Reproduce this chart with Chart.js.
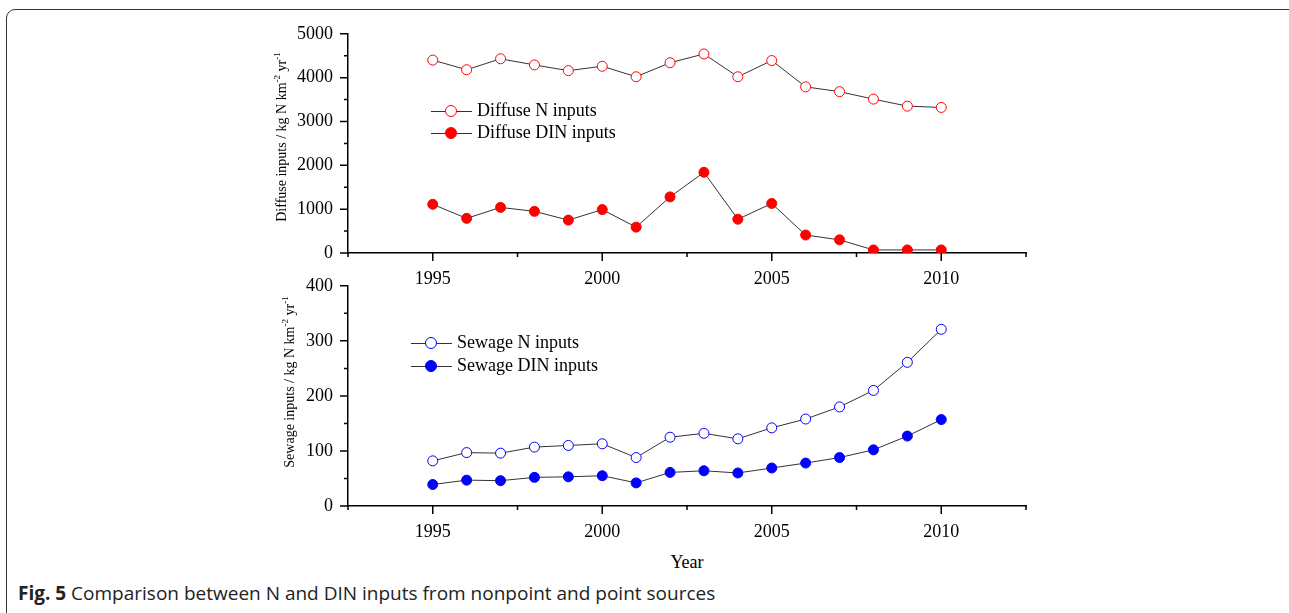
<!DOCTYPE html>
<html lang="en">
<head>
    <meta charset="UTF-8">
    <title>Fig. 5</title>
    <style>
        body {
            margin: 0;
            background-color: #fff;
            width: 1289px;
            height: 613px;
            overflow: hidden;
            position: relative;
            font-family: 'Liberation Serif', 'Times New Roman', serif;
            color: #000;
        }

        .frame {
            position: absolute;
            left: 6px;
            top: 9px;
            width: 1300px;
            height: 640px;
            border: 1.5px solid #333;
            border-radius: 9px;
        }

        .chart-box {
            position: absolute;
            left: 260px;
            width: 800px;
            height: 282px;
        }

        #topBox { top: 8px; }
        #bottomBox { top: 260px; }

        .y-title {
            position: absolute;
            white-space: nowrap;
            font-size: 14px;
            transform: translate(-50%, -50%) rotate(-90deg);
        }

        .y-title sup {
            font-size: 9px;
            vertical-align: 6px;
            line-height: 0;
        }

        .legend-row {
            position: absolute;
            height: 0;
            font-size: 18px;
        }

        .legend-row .line {
            position: absolute;
            left: 0;
            top: -0.5px;
            width: 41px;
            height: 1px;
            background-color: #333;
        }

        .legend-row .dot {
            position: absolute;
            left: 14px;
            top: -6px;
            width: 10px;
            height: 10px;
            border-radius: 50%;
            border: 1px solid;
            box-sizing: content-box;
        }

        .legend-row .label {
            position: absolute;
            left: 46px;
            top: -11px;
            white-space: nowrap;
            line-height: 20px;
        }

        .x-title {
            position: absolute;
            left: 687px;
            top: 562px;
            font-size: 18px;
            transform: translate(-50%, -50%);
        }

        .caption {
            position: absolute;
            left: 18px;
            top: 580px;
            font-family: 'Open Sans', 'Noto Sans', sans-serif;
            font-size: 19px;
            white-space: nowrap;
            color: #222;
        }
    </style>
</head>
<body>
    <div class="frame"></div>

    <div class="chart-box" id="topBox"><canvas id="topChart" width="800" height="282"></canvas></div>
    <div class="chart-box" id="bottomBox"><canvas id="bottomChart" width="800" height="282"></canvas></div>

    <div class="y-title" style="left:282px; top:137px;">Diffuse inputs / kg N km<sup>-2</sup> yr<sup>-1</sup></div>
    <div class="y-title" style="left:290px; top:382px;">Sewage inputs / kg N km<sup>-2</sup> yr<sup>-1</sup></div>

    <div class="legend-row" style="left:431px; top:111px;">
        <span class="line"></span><span class="dot" style="border-color:#ff0000; background:#fff;"></span>
        <span class="label">Diffuse N inputs</span>
    </div>
    <div class="legend-row" style="left:431px; top:133px;">
        <span class="line"></span><span class="dot" style="border-color:#ff0000; background:#ff0000;"></span>
        <span class="label">Diffuse DIN inputs</span>
    </div>
    <div class="legend-row" style="left:411px; top:343px;">
        <span class="line"></span><span class="dot" style="border-color:#0000ff; background:#fff;"></span>
        <span class="label">Sewage N inputs</span>
    </div>
    <div class="legend-row" style="left:411px; top:366px;">
        <span class="line"></span><span class="dot" style="border-color:#0000ff; background:#0000ff;"></span>
        <span class="label">Sewage DIN inputs</span>
    </div>

    <div class="x-title">Year</div>
    <div class="caption"><b>Fig. 5</b> Comparison between N and DIN inputs from nonpoint and point sources</div>

    <script src="https://cdn.jsdelivr.net/npm/chart.js"></script>
    <script>
        // data
        const years = [1995, 1996, 1997, 1998, 1999, 2000, 2001, 2002, 2003, 2004, 2005, 2006, 2007, 2008, 2009, 2010];
        const diffuseN = [4400, 4180, 4430, 4290, 4160, 4260, 4020, 4340, 4540, 4020, 4390, 3790, 3680, 3510, 3350, 3320];
        const diffuseDIN = [1110, 790, 1040, 950, 750, 990, 590, 1280, 1840, 770, 1130, 410, 300, 70, 70, 70];
        const sewageN = [82, 97, 96, 107, 110, 113, 88, 125, 132, 122, 142, 158, 180, 210, 261, 321];
        const sewageDIN = [39, 47, 46, 52, 53, 55, 42, 61, 64, 60, 69, 78, 88, 102, 127, 157];
        const xLabels = [1995, 2000, 2005, 2010];

        const toPoints = (vals) => years.map((y, i) => ({ x: y, y: vals[i] }));

        // outward major/minor tick marks (Origin style)
        const tickMarks = {
            id: 'tickMarks',
            afterDraw(chart) {
                const ctx = chart.ctx;
                const xs = chart.scales.x;
                const ys = chart.scales.y;
                const o = chart.options.plugins.tickMarks;
                ctx.save();
                ctx.strokeStyle = '#000';
                ctx.lineWidth = 1.5;
                ctx.beginPath();
                for (let v = xs.min; v <= xs.max + 1e-6; v += o.xMinor) {
                    const px = xs.getPixelForValue(v);
                    const len = Math.abs(v % o.xMajor) < 1e-6 ? 8 : 4;
                    ctx.moveTo(px, xs.top);
                    ctx.lineTo(px, xs.top + len);
                }
                for (let v = ys.min; v <= ys.max + 1e-6; v += o.yMinor) {
                    const py = ys.getPixelForValue(v);
                    const len = Math.abs(v % o.yMajor) < 1e-6 ? 8 : 4;
                    ctx.moveTo(ys.right, py);
                    ctx.lineTo(ys.right - len, py);
                }
                ctx.stroke();
                ctx.restore();
            }
        };

        function makeDataset(vals, color, filled) {
            return {
                data: toPoints(vals),
                borderColor: '#333',
                borderWidth: 1,
                pointRadius: 5,
                pointHoverRadius: 5,
                pointBorderWidth: 1,
                pointBorderColor: color,
                pointBackgroundColor: filled ? color : '#fff',
                tension: 0
            };
        }

        function makeChart(canvasId, datasets, yMax, yMajor, yMinor, xAxisHeight) {
            const font = { family: "'Liberation Serif', 'Times New Roman', serif", size: 18 };
            return new Chart(document.getElementById(canvasId), {
                type: 'line',
                data: { datasets: datasets },
                plugins: [tickMarks],
                options: {
                    responsive: false,
                    animation: false,
                    layout: { padding: { left: 0, top: 1, right: 34, bottom: 0 } },
                    plugins: {
                        legend: { display: false },
                        tooltip: { enabled: false },
                        tickMarks: { xMajor: 5, xMinor: 2.5, yMajor: yMajor, yMinor: yMinor }
                    },
                    scales: {
                        x: {
                            type: 'linear',
                            min: 1992.5,
                            max: 2012.5,
                            afterFit: (scale) => { scale.height = xAxisHeight; },
                            grid: { display: false, drawTicks: false },
                            border: { display: true, color: '#000', width: 1.5 },
                            ticks: {
                                stepSize: 2.5,
                                autoSkip: false,
                                maxRotation: 0,
                                padding: 15,
                                color: '#000',
                                font: font,
                                callback: (v) => xLabels.includes(v) ? String(v) : ''
                            }
                        },
                        y: {
                            min: 0,
                            max: yMax,
                            afterFit: (scale) => { scale.width = 88; },
                            grid: { display: false, drawTicks: false },
                            border: { display: true, color: '#000', width: 1.5 },
                            ticks: {
                                stepSize: yMinor,
                                autoSkip: false,
                                padding: 15,
                                color: '#000',
                                font: font,
                                callback: (v) => v % yMajor === 0 ? String(v) : ''
                            }
                        }
                    }
                }
            });
        }

        makeChart('topChart', [
            makeDataset(diffuseN, '#ff0000', false),
            makeDataset(diffuseDIN, '#ff0000', true)
        ], 5000, 1000, 500, 37);

        makeChart('bottomChart', [
            makeDataset(sewageN, '#0000ff', false),
            makeDataset(sewageDIN, '#0000ff', true)
        ], 400, 100, 50, 36);
    </script>
</body>
</html>
